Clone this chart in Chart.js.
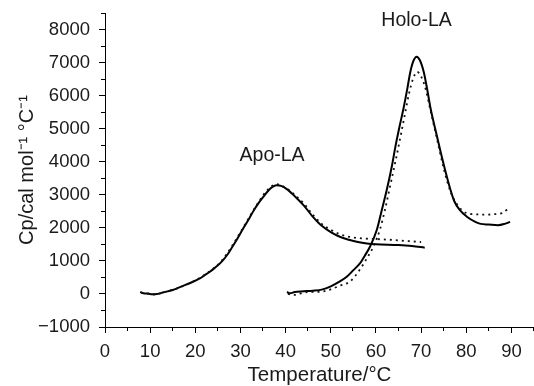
<!DOCTYPE html>
<html><head><meta charset="utf-8">
<script src="https://cdn.jsdelivr.net/npm/chart.js@4"></script>
<style>html,body{margin:0;padding:0;background:#fff}#wrap{width:534px;height:386px}</style>
</head><body><div id="wrap"><canvas id="c" width="534" height="386"></canvas></div>
<script>
// ---- Data ----
const apoT  = [7.8, 8.5, 9.5, 10.5, 11.5, 13, 15, 17, 19, 21, 22, 23, 24, 25, 26, 27, 28, 29, 30, 31, 32, 33, 34, 35, 36, 37, 38, 39, 40.5, 42, 44, 46, 48, 50, 52, 54, 56, 58, 60, 65, 68, 70.8];
const apoCp = [60, 20, 10, -10, 0, 50, 120, 230, 340, 470, 560, 650, 750, 865, 1000, 1170, 1380, 1600, 1840, 2070, 2300, 2540, 2750, 2930, 3100, 3230, 3290, 3270, 3150, 2960, 2680, 2340, 2060, 1870, 1730, 1640, 1570, 1525, 1500, 1480, 1450, 1400];
const apoT2  = [8, 9, 10, 11, 12, 14, 16, 18, 20, 22, 24, 26, 28, 30, 32, 34, 36, 38, 40, 42, 44, 46, 48, 50, 52, 54, 57, 60, 63, 67, 70];
const apoCp2 = [40, 0, 20, -20, 10, 90, 170, 280, 410, 570, 770, 1030, 1420, 1870, 2330, 2780, 3150, 3320, 3210, 3000, 2740, 2400, 2120, 1940, 1810, 1730, 1680, 1660, 1640, 1600, 1570];
const holoT  = [40.3, 41, 42, 44, 46, 48, 50, 52, 53.6, 55, 56.5, 57.5, 58.7, 60.2, 61.3, 62.4, 63.5, 64.3, 65.2, 66.1, 67, 67.6, 68.3, 69, 69.7, 70.6, 71.4, 72.1, 73.2, 74.3, 75.5, 76.5, 77.3, 78.5, 80.3, 82, 83.2, 85, 87, 88.5, 89.7];
const holoCp = [60, 20, 60, 80, 100, 130, 230, 380, 530, 720, 930, 1150, 1435, 1940, 2540, 3150, 3850, 4450, 5050, 5610, 6250, 6710, 7050, 7180, 7080, 6710, 6150, 5610, 4950, 4310, 3650, 3150, 2820, 2550, 2320, 2180, 2120, 2100, 2080, 2120, 2180];
const holoT2  = [40.5, 42, 44, 46, 48, 50, 52, 54.3, 56, 58, 59.5, 61, 62, 63.2, 64.3, 65.5, 66.5, 67.3, 68.2, 69.1, 70, 71, 72, 73.5, 75, 76.5, 78, 80, 82, 84, 86, 88, 89, 89.7];
const holoCp2 = [0, -30, 40, 60, 70, 140, 250, 380, 650, 1080, 1450, 2000, 2550, 3300, 4000, 4800, 5500, 6050, 6500, 6720, 6580, 6200, 5600, 4700, 3800, 3100, 2700, 2450, 2410, 2400, 2410, 2450, 2550, 2610];

const xMajorTicks = [0, 10, 20, 30, 40, 50, 60, 70, 80, 90];
const xMinorTicks = [5, 15, 25, 35, 45, 55, 65, 75, 85, 95];
const yMajorTicks = [-1000, 0, 1000, 2000, 3000, 4000, 5000, 6000, 7000, 8000];
const yMinorTicks = [-500, 500, 1500, 2500, 3500, 4500, 5500, 6500, 7500, 8500];
const curveLabels = ['Apo-LA', 'Holo-LA'];
const curveLabelAnchorT  = [37, 69];
const curveLabelAnchorCp = [4200, 8280];

const FONT = "'Liberation Sans', Arial, Helvetica, sans-serif";
const TXT = '#1a1a1a';

function pts(xs, ys) { return xs.map((x, i) => ({x: x, y: ys[i]})); }
function fmt(v) { return v < 0 ? '\u2212' + Math.abs(v) : String(v); }

const minorTicksAndLabels = {
  id: 'minorTicksAndLabels',
  afterDraw(chart) {
    const ctx = chart.ctx, xs = chart.scales.x, ys = chart.scales.y;
    ctx.save();
    ctx.strokeStyle = '#000';
    ctx.lineWidth = 1;
    ctx.beginPath();
    xMinorTicks.forEach(v => {
      const px = Math.round(xs.getPixelForValue(v)) - 0.5;
      ctx.moveTo(px, xs.top); ctx.lineTo(px, xs.top + 4);
    });
    yMinorTicks.forEach(v => {
      const py = Math.round(ys.getPixelForValue(v)) + 0.5;
      ctx.moveTo(ys.right, py); ctx.lineTo(ys.right - 4, py);
    });
    ctx.stroke();
    ctx.fillStyle = TXT;
    ctx.font = '19.5px ' + FONT;
    ctx.textAlign = 'center';
    ctx.textBaseline = 'middle';
    curveLabels.forEach((t, i) => {
      ctx.fillText(t, xs.getPixelForValue(curveLabelAnchorT[i]), ys.getPixelForValue(curveLabelAnchorCp[i]));
    });
    ctx.restore();
  }
};

const axisGrid = {display: true, drawOnChartArea: false, drawTicks: true, tickLength: 6, color: '#000', lineWidth: 1};
const lineStyle = {showLine: true, pointRadius: 0, cubicInterpolationMode: 'monotone'};

new Chart(document.getElementById('c'), {
  type: 'scatter',
  data: {
    datasets: [
      Object.assign({data: pts(apoT2, apoCp2), borderColor: '#111', borderWidth: 1.8, borderDash: [2, 4]}, lineStyle),
      Object.assign({data: pts(holoT2, holoCp2), borderColor: '#111', borderWidth: 1.8, borderDash: [2, 4]}, lineStyle),
      Object.assign({data: pts(apoT, apoCp), borderColor: '#000', borderWidth: 2}, lineStyle),
      Object.assign({data: pts(holoT, holoCp), borderColor: '#000', borderWidth: 2}, lineStyle)
    ]
  },
  options: {
    responsive: false,
    animation: false,
    devicePixelRatio: 1,
    layout: {padding: {top: 13, right: 0, bottom: 0, left: 0}},
    plugins: {legend: {display: false}, tooltip: {enabled: false}},
    scales: {
      x: {
        type: 'linear', min: 0, max: 95,
        afterBuildTicks: s => { s.ticks = xMajorTicks.map(v => ({value: v})); },
        afterFit: s => { s.height = 59; s.paddingLeft = 0; s.paddingRight = 0; },
        ticks: {color: TXT, font: {family: FONT, size: 18.5}, padding: 8, maxRotation: 0, autoSkip: false, callback: v => fmt(v)},
        grid: axisGrid,
        border: {display: true, color: '#000', width: 1},
        title: {display: true, text: 'Temperature/°C', color: TXT, font: {family: FONT, size: 20.5}, padding: {top: 0, bottom: -2}}
      },
      y: {
        type: 'linear', min: -1000, max: 8500,
        afterBuildTicks: s => { s.ticks = yMajorTicks.map(v => ({value: v})); },
        afterFit: s => { s.width = 105; s.paddingTop = 0; s.paddingBottom = 0; },
        ticks: {color: TXT, font: {family: FONT, size: 18.5}, padding: 9, autoSkip: false, callback: v => fmt(v)},
        grid: axisGrid,
        border: {display: true, color: '#000', width: 1},
        title: {display: true, text: 'Cp/cal mol⁻¹ °C⁻¹', color: TXT, font: {family: FONT, size: 20}, padding: {top: 15, bottom: 0}}
      }
    }
  },
  plugins: [minorTicksAndLabels]
});
</script>
</body></html>
